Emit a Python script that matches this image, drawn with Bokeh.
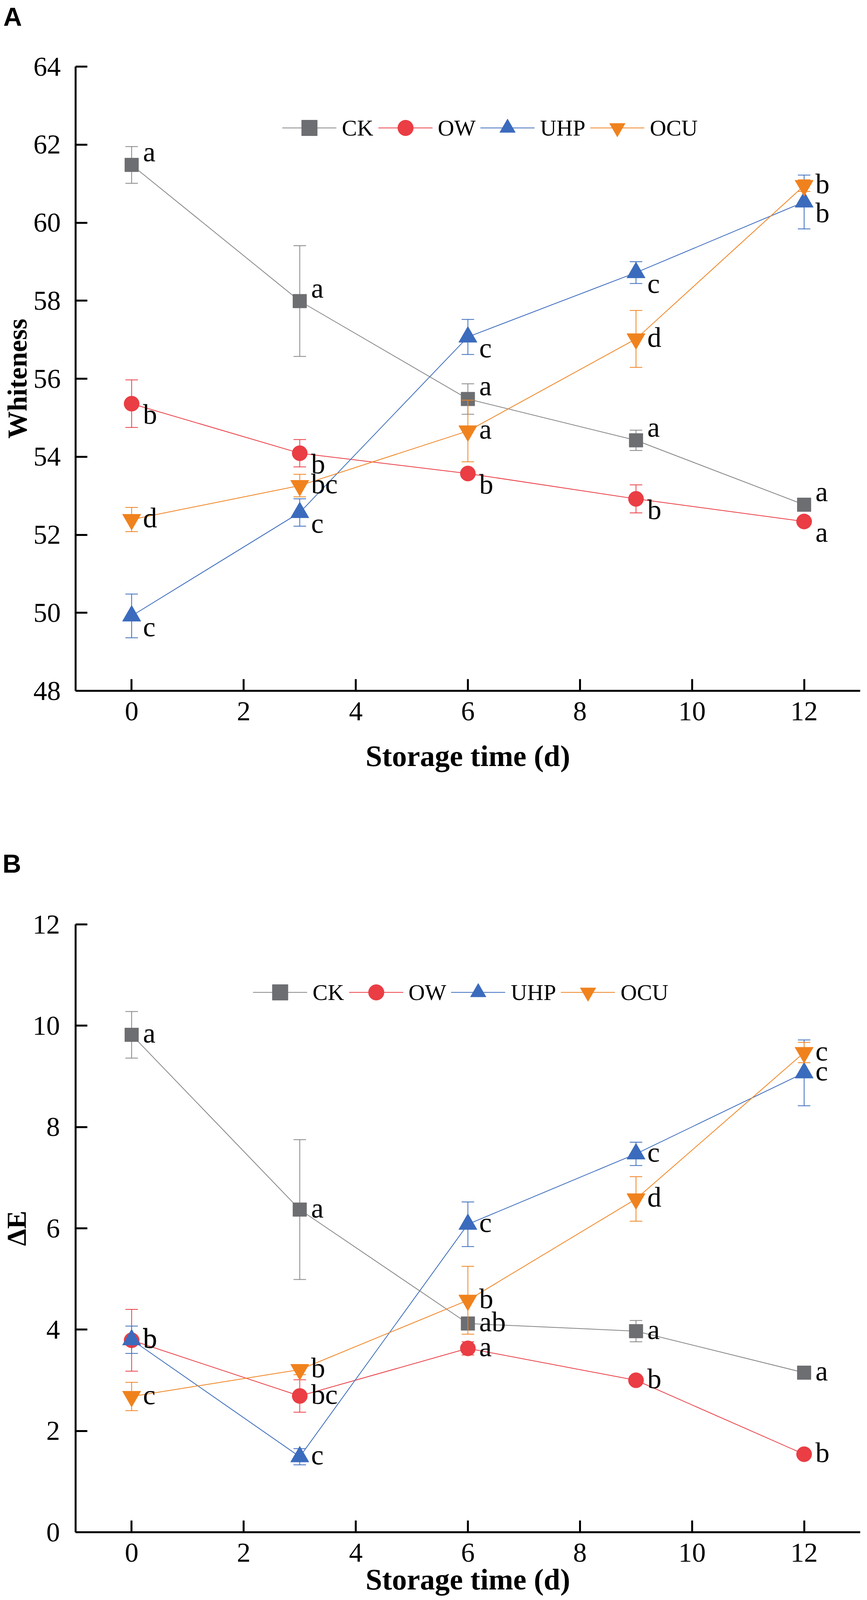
from bokeh.plotting import figure
from bokeh.models import Legend, LegendItem, Range1d, FixedTicker, ColumnDataSource, Title
from bokeh.layouts import column
from bokeh.embed import file_html
from bokeh.resources import INLINE
from bokeh.core.properties import value

# ---------------- data ----------------
days = [0, 3, 6, 9, 12]
series = ["CK", "OW", "UHP", "OCU"]

# Panel A: Whiteness
white_ck = [61.48, 57.99, 55.48, 54.42, 52.77]
white_ck_err = [0.47, 1.42, 0.39, 0.26, 0.08]
white_ow = [55.36, 54.09, 53.57, 52.92, 52.34]
white_ow_err = [0.61, 0.35, 0.08, 0.36, 0.06]
white_uhp = [49.92, 52.57, 57.07, 58.72, 60.53]
white_uhp_err = [0.56, 0.35, 0.45, 0.28, 0.69]
white_ocu = [52.39, 53.26, 54.66, 57.02, 60.95]
white_ocu_err = [0.31, 0.29, 0.79, 0.73, 0.15]

white_ck_let = ["a", "a", "a", "a", "a"]
white_ow_let = ["b", "b", "b", "b", "a"]
white_uhp_let = ["c", "c", "c", "c", "b"]
white_ocu_let = ["d", "bc", "a", "d", "b"]

# Panel B: ΔE
de_ck = [9.82, 6.37, 4.12, 3.97, 3.15]
de_ck_err = [0.46, 1.38, 0.12, 0.21, 0.06]
de_ow = [3.79, 2.69, 3.63, 3.00, 1.54]
de_ow_err = [0.61, 0.32, 0.13, 0.08, 0.05]
de_uhp = [3.80, 1.49, 6.08, 7.47, 9.07]
de_uhp_err = [0.27, 0.16, 0.44, 0.23, 0.65]
de_ocu = [2.68, 3.21, 4.58, 6.58, 9.47]
de_ocu_err = [0.28, 0.10, 0.67, 0.44, 0.20]

de_ck_let = ["a", "a", "ab", "a", "a"]
de_ow_let = ["b", "bc", "a", "b", "b"]
de_uhp_let = ["b", "c", "c", "c", "c"]
de_ocu_let = ["c", "b", "b", "d", "c"]

x_ticks = [0, 2, 4, 6, 8, 10, 12]
white_ticks = [48, 50, 52, 54, 56, 58, 60, 62, 64]
de_ticks = [0, 2, 4, 6, 8, 10, 12]

# ---------------- styles ----------------
COLORS = {"CK": "#6d6e71", "OW": "#ea3d44", "UHP": "#3b6bbd", "OCU": "#f0821e"}
LINECOL = {"CK": "#858585", "OW": "#ea3d44", "UHP": "#3b6bbd", "OCU": "#f0821e"}
MARKERS = {"CK": "square", "OW": "circle", "UHP": "triangle", "OCU": "inverted_triangle"}
SIZES = {"CK": 35, "OW": 39, "UHP": 47, "OCU": 47}
# letter placement relative to the marker (vertical offset, px)
PLACE = {"ur": -33, "r": -4, "lr": 28}
SERIF = "Liberation Serif"


def make_panel(tag, data, ylabel, yrange, yticks, placement, geom):
    p = figure(width=2211, height=geom["height"], output_backend="svg",
               toolbar_location=None,
               x_range=Range1d(-1, 13), y_range=Range1d(*yrange),
               min_border_left=geom["left"], min_border_right=geom["right"],
               min_border_top=geom["top"], min_border_bottom=geom["bottom"],
               background_fill_color="white", border_fill_color="white")
    p.outline_line_color = None
    p.grid.grid_line_color = None

    # panel tag; the empty second line lifts it to the top of the figure
    p.title = Title(text=tag + "\n", align="left", vertical_align="top", offset=geom["tag_off"],
                    standoff=geom["tag_standoff"], text_font="Liberation Sans",
                    text_font_style="bold", text_font_size="66px", text_color="black",
                    text_line_height=1.2)

    items = []
    for name in series:
        vals, errs, lets = data[name]
        col = COLORS[name]
        lower = [v - e for v, e in zip(vals, errs)]
        upper = [v + e for v, e in zip(vals, errs)]
        p.segment(x0=days, y0=lower, x1=days, y1=upper, line_color=LINECOL[name], line_width=2)
        p.scatter(x=days, y=upper, marker="dash", size=32, line_color=LINECOL[name], line_width=2)
        p.scatter(x=days, y=lower, marker="dash", size=32, line_color=LINECOL[name], line_width=2)
        lr = p.line(x=days, y=vals, line_color=LINECOL[name], line_width=2)
        sr = p.scatter(x=days, y=vals, marker=MARKERS[name], size=SIZES[name],
                       fill_color=col, line_color=col, line_width=1)
        items.append(LegendItem(label=name, renderers=[lr, sr]))

    for name in series:
        vals, errs, lets = data[name]
        src = ColumnDataSource(dict(x=days, y=vals, t=lets,
                                    yo=[PLACE[c] for c in placement[name]]))
        p.text(x="x", y="y", text="t", source=src, x_offset=29, y_offset="yo",
               text_font=value(SERIF), text_font_size="72px",
               text_baseline="alphabetic", text_align="left", text_color="black")

    legend = Legend(items=items, orientation="horizontal", location=geom["legend"],
                    glyph_width=139, glyph_height=100, label_standoff=14, spacing=12,
                    padding=0, margin=0, border_line_color=None, background_fill_alpha=0,
                    label_text_font=SERIF, label_text_font_size="58px",
                    label_text_color="black")
    p.add_layout(legend)

    for ax in (p.xaxis[0], p.yaxis[0]):
        ax.axis_line_width = 5
        ax.axis_line_color = "black"
        ax.major_tick_line_width = 5
        ax.major_tick_line_color = "black"
        ax.major_tick_in = 30
        ax.major_tick_out = 0
        ax.minor_tick_line_color = None
        ax.major_label_text_font = SERIF
        ax.major_label_text_font_size = "70px"
        ax.major_label_text_color = "black"
        ax.axis_label_text_font = SERIF
        ax.axis_label_text_font_style = "bold"
        ax.axis_label_text_color = "black"

    p.xaxis.ticker = FixedTicker(ticks=x_ticks)
    p.yaxis.ticker = FixedTicker(ticks=yticks)
    p.xaxis.major_label_standoff = 29
    p.yaxis.major_label_standoff = geom["ystand"]
    p.xaxis.axis_label = "Storage time (d)"
    p.xaxis.axis_label_text_font_size = "76px"
    p.xaxis.axis_label_standoff = geom["xlabstand"]
    p.yaxis.axis_label = ylabel
    p.yaxis.axis_label_text_font_size = "70px"
    p.yaxis.axis_label_standoff = 0
    return p


data_a = {"CK": (white_ck, white_ck_err, white_ck_let),
          "OW": (white_ow, white_ow_err, white_ow_let),
          "UHP": (white_uhp, white_uhp_err, white_uhp_let),
          "OCU": (white_ocu, white_ocu_err, white_ocu_let)}
place_a = {"CK": ["ur"] * 5, "OW": ["lr"] * 5, "UHP": ["lr"] * 5, "OCU": ["r"] * 5}

data_b = {"CK": (de_ck, de_ck_err, de_ck_let),
          "OW": (de_ow, de_ow_err, de_ow_let),
          "UHP": (de_uhp, de_uhp_err, de_uhp_let),
          "OCU": (de_ocu, de_ocu_err, de_ocu_let)}
place_b = {k: ["r"] * 5 for k in series}

pa = make_panel("A", data_a, "Whiteness", (48, 64), white_ticks, place_a,
                dict(height=2142, left=185, right=2, top=170, bottom=374,
                     legend=(529, 1391), ystand=38, xlabstand=46,
                     tag_off=-185, tag_standoff=0))
pb = make_panel("B", data_b, "\u0394E", (0, 12), de_ticks, place_b,
                dict(height=2001, left=192, right=10, top=224, bottom=221,
                     legend=(454, 1332), ystand=40, xlabstand=0,
                     tag_off=-187, tag_standoff=56))

layout = column(pa, pb)
open("out.html", "w").write(file_html(layout, INLINE))
